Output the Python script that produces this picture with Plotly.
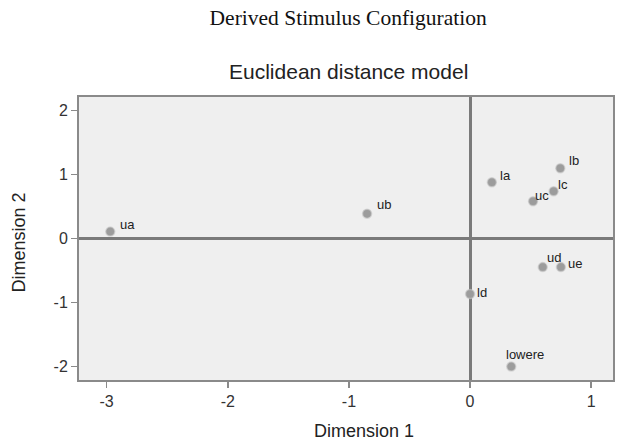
import plotly.graph_objects as go

# ---- data ----
stimuli = ["ua", "ub", "la", "lb", "lc", "uc", "ud", "ue", "ld", "lowere"]
dim1 = [-2.97, -0.85, 0.18, 0.745, 0.69, 0.52, 0.60, 0.75, 0.0, 0.34]
dim2 = [0.11, 0.39, 0.88, 1.10, 0.74, 0.585, -0.445, -0.445, -0.865, -2.0]

x_tickvals = [-3, -2, -1, 0, 1]
x_ticktext = ["-3", "-2", "-1", "0", "1"]
y_tickvals = [-2, -1, 0, 1, 2]
y_ticktext = ["-2", "-1", "0", "1", "2"]

# label offsets in pixels (style)
label_dx = [7.7, 7.7, 6, 7, 2.7, 0, 2, 4.7, 5, -7.3]
label_dy = [6.7, 9.3, 7, 8, 6.3, 6, 9.5, 4, 1.5, 12.5]

SANS = "Liberation Sans, Arial, sans-serif"

fig = go.Figure()
fig.add_trace(go.Scatter(
    x=dim1, y=dim2, mode="markers",
    marker=dict(size=9, color="#9c9c9c", line=dict(width=1.5, color="rgba(200,200,200,0.6)")),
    hoverinfo="text", text=stimuli, showlegend=False,
))

annotations = []
for name, xv, yv, dx, dy in zip(stimuli, dim1, dim2, label_dx, label_dy):
    annotations.append(dict(
        x=xv, y=yv, xref="x", yref="y", text=name, showarrow=False,
        xanchor="left", yanchor="middle", xshift=dx, yshift=dy,
        font=dict(family=SANS, size=13, color="#222222"),
    ))

annotations.append(dict(
    text="Euclidean distance model", xref="paper", yref="paper",
    x=0.504, y=1.0917, xanchor="center", yanchor="middle", showarrow=False,
    font=dict(family=SANS, size=21, color="#222222"),
))
annotations.append(dict(
    text="Dimension 1", xref="paper", yref="paper",
    x=0.5336, y=-0.1817, xanchor="center", yanchor="middle", showarrow=False,
    font=dict(family=SANS, size=18, color="#222222"),
))
annotations.append(dict(
    text="Dimension 2", xref="paper", yref="paper", textangle=-90,
    x=-0.112, y=0.4868, xanchor="center", yanchor="middle", showarrow=False,
    font=dict(family=SANS, size=18, color="#222222"),
))

fig.update_layout(
    width=618, height=446, autosize=False,
    margin=dict(l=79, r=3, t=97, b=65.5, pad=0),
    paper_bgcolor="white", plot_bgcolor="#efefef",
    title=dict(
        text="Derived Stimulus Configuration",
        x=0.504, xref="paper", xanchor="center",
        y=1 - 17.0 / 446, yref="container", yanchor="middle",
        font=dict(family="Liberation Serif, Times New Roman, serif", size=21.5, color="#111111"),
    ),
    annotations=annotations,
    xaxis=dict(
        range=[-3.228, 1.18], tickvals=x_tickvals, ticktext=x_ticktext,
        showgrid=False, zeroline=True, zerolinecolor="#7a7a7a", zerolinewidth=3,
        showline=True, mirror=True, linecolor="#8a8a8a", linewidth=2,
        ticks="outside", ticklen=6, tickwidth=1.5, tickcolor="#8a8a8a",
        tickfont=dict(family=SANS, size=16, color="#333333"),
        fixedrange=True,
    ),
    yaxis=dict(
        range=[-2.21, 2.214], tickvals=y_tickvals, ticktext=y_ticktext,
        showgrid=False, zeroline=True, zerolinecolor="#7a7a7a", zerolinewidth=3,
        showline=True, mirror=True, linecolor="#8a8a8a", linewidth=2,
        ticks="outside", ticklen=6, tickwidth=1.5, tickcolor="#8a8a8a",
        tickfont=dict(family=SANS, size=16, color="#333333"),
        fixedrange=True,
    ),
)

fig.write_html(
    "out.html",
    config={"displayModeBar": False, "staticPlot": True},
    post_script="document.body.style.margin='0px';",
)
